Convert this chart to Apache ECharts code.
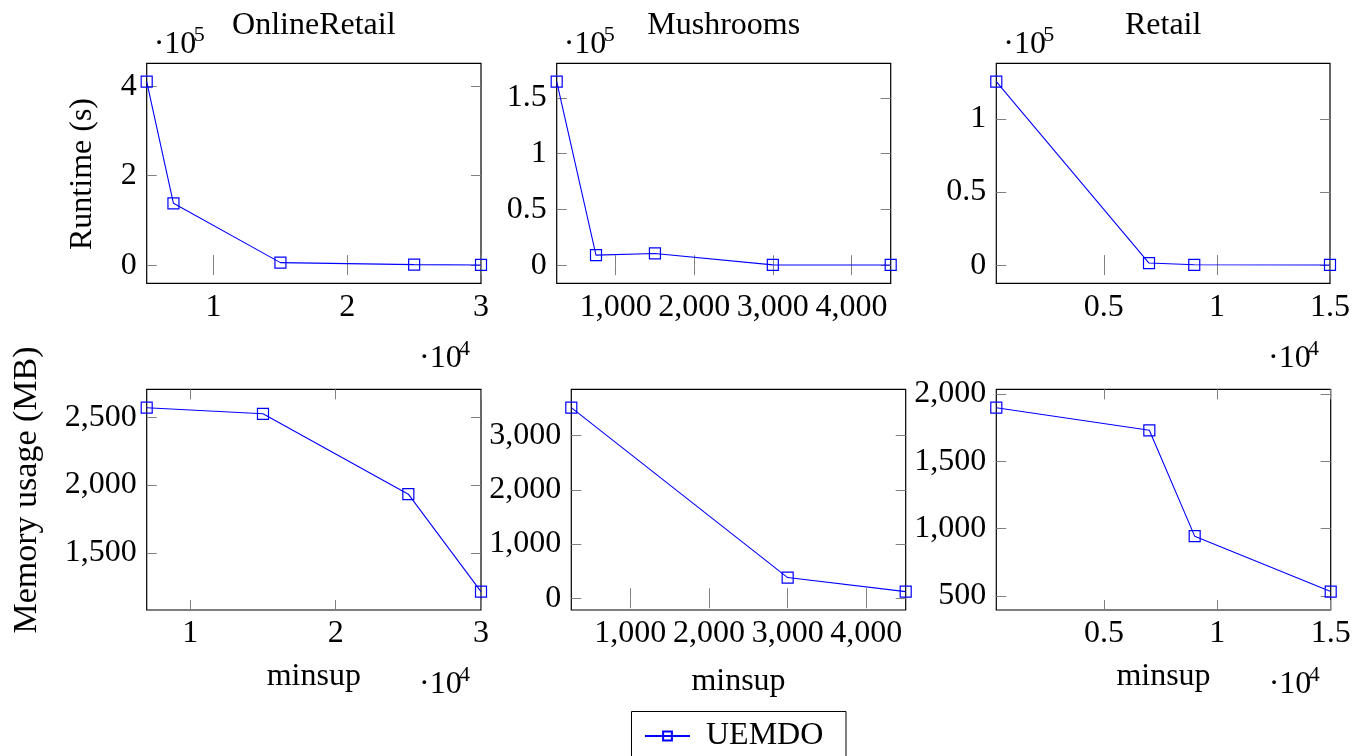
<!DOCTYPE html>
<html><head><meta charset="utf-8">
<script src="https://cdn.jsdelivr.net/npm/echarts@6/dist/echarts.min.js"></script>
<style>html,body{margin:0;padding:0;background:#fff}#c{width:1354px;height:756px}</style>
</head><body><div id="c"></div>
<script>
// ---------- DATA ----------
const seriesName = 'UEMDO';
const datasetTitles = ['OnlineRetail', 'Mushrooms', 'Retail'];
const yNameRuntime = 'Runtime (s)';
const yNameMemory = 'Memory usage (MB)';
const xName = 'minsup';

// Runtime (s)
const onlineRetailRuntimeX = [5000, 7000, 15000, 25000, 30000];
const onlineRetailRuntimeY = [410000, 138000, 5500, 1000, 300];
const mushroomsRuntimeX = [250, 750, 1500, 3000, 4500];
const mushroomsRuntimeY = [164500, 9000, 10500, 300, 200];
const retailRuntimeX = [250, 7000, 9000, 15000];
const retailRuntimeY = [125500, 1400, 200, 100];

// Memory usage (MB)
const onlineRetailMemoryX = [7000, 15000, 25000, 30000];
const onlineRetailMemoryY = [2570, 2525, 1933, 1215];
const mushroomsMemoryX = [250, 3000, 4500];
const mushroomsMemoryY = [3515, 381, 122];
const retailMemoryX = [250, 7000, 9000, 15000];
const retailMemoryY = [1897, 1729, 943, 531];

// Tick values
const onlineRetailRuntimeXTicks = [10000, 20000, 30000];
const onlineRetailRuntimeYTicks = [0, 200000, 400000];
const mushroomsRuntimeXTicks = [1000, 2000, 3000, 4000];
const mushroomsRuntimeYTicks = [0, 50000, 100000, 150000];
const retailRuntimeXTicks = [5000, 10000, 15000];
const retailRuntimeYTicks = [0, 50000, 100000];
const onlineRetailMemoryXTicks = [10000, 20000, 30000];
const onlineRetailMemoryYTicks = [1500, 2000, 2500];
const mushroomsMemoryXTicks = [1000, 2000, 3000, 4000];
const mushroomsMemoryYTicks = [0, 1000, 2000, 3000];
const retailMemoryXTicks = [5000, 10000, 15000];
const retailMemoryYTicks = [500, 1000, 1500, 2000];

// ---------- LAYOUT ----------
const FONT = 'Liberation Serif';
const FS = 32;
const panels = [
  {x: onlineRetailRuntimeX, y: onlineRetailRuntimeY, xt: onlineRetailRuntimeXTicks, yt: onlineRetailRuntimeYTicks, xs: 1e4, ys: 1e5, rect: [146.7, 63.3, 334.3, 220]},
  {x: mushroomsRuntimeX, y: mushroomsRuntimeY, xt: mushroomsRuntimeXTicks, yt: mushroomsRuntimeYTicks, xs: 1, ys: 1e5, rect: [556.7, 63.3, 334, 220]},
  {x: retailRuntimeX, y: retailRuntimeY, xt: retailRuntimeXTicks, yt: retailRuntimeYTicks, xs: 1e4, ys: 1e5, rect: [996.3, 63.3, 333.7, 220]},
  {x: onlineRetailMemoryX, y: onlineRetailMemoryY, xt: onlineRetailMemoryXTicks, yt: onlineRetailMemoryYTicks, xs: 1e4, ys: 1, rect: [146.7, 389.3, 334.3, 220.7]},
  {x: mushroomsMemoryX, y: mushroomsMemoryY, xt: mushroomsMemoryXTicks, yt: mushroomsMemoryYTicks, xs: 1, ys: 1, rect: [571.3, 389.3, 334.4, 220.7]},
  {x: retailMemoryX, y: retailMemoryY, xt: retailMemoryXTicks, yt: retailMemoryYTicks, xs: 1e4, ys: 1, rect: [996.3, 389.3, 334.4, 220.7]}
];

const fmt = s => v => (v / s).toLocaleString('en-US', {maximumFractionDigits: 3});
const tickStyle = {show: true, inside: true, length: 10, lineStyle: {color: '#808080', width: 1}};
const labelText = {color: '#000', fontFamily: FONT, fontSize: FS};

const grid = [], xAxis = [], yAxis = [], series = [];
panels.forEach((p, i) => {
  const [l, t, w, h] = p.rect;
  grid.push({left: l, top: t, width: w, height: h, show: true, borderColor: '#000', borderWidth: 1.2, backgroundColor: 'transparent', containLabel: false});
  const xmin = Math.min(...p.x), xmax = Math.max(...p.x);
  const dmin = Math.min(...p.y), dmax = Math.max(...p.y);
  const pad = 0.1 * (dmax - dmin);
  const ymin = dmin - pad, ymax = dmax + pad;
  // primary
  xAxis.push({type: 'value', gridIndex: i, position: 'bottom', min: xmin, max: xmax,
    axisLine: {show: false}, splitLine: {show: false},
    axisTick: Object.assign({customValues: p.xt}, tickStyle),
    axisLabel: Object.assign({customValues: p.xt, margin: 8, formatter: fmt(p.xs), showMinLabel: true, showMaxLabel: true}, labelText)});
  yAxis.push({type: 'value', gridIndex: i, position: 'left', min: ymin, max: ymax,
    axisLine: {show: false}, splitLine: {show: false},
    axisTick: Object.assign({customValues: p.yt}, tickStyle),
    axisLabel: Object.assign({customValues: p.yt, margin: 10, formatter: fmt(p.ys), showMinLabel: true, showMaxLabel: true}, labelText)});
  series.push({type: 'line', name: seriesName, xAxisIndex: 2 * i, yAxisIndex: 2 * i,
    data: p.x.map((v, k) => [v, p.y[k]]),
    symbol: 'rect', symbolSize: 11, showAllSymbol: true, clip: false,
    lineStyle: {color: '#0000ff', width: 1.1},
    itemStyle: {color: 'rgba(255,255,255,0)', borderColor: '#0000ff', borderWidth: 1.2},
    emphasis: {disabled: true}, z: 3});
  // secondary (opposite side ticks)
  xAxis.push({type: 'value', gridIndex: i, position: 'top', min: xmin, max: xmax,
    axisLine: {show: false}, splitLine: {show: false}, axisLabel: {show: false},
    axisTick: Object.assign({customValues: p.xt}, tickStyle)});
  yAxis.push({type: 'value', gridIndex: i, position: 'right', min: ymin, max: ymax,
    axisLine: {show: false}, splitLine: {show: false}, axisLabel: {show: false},
    axisTick: Object.assign({customValues: p.yt}, tickStyle)});
});

function txt(x, y, text, opts) {
  return Object.assign({type: 'text', x: x, y: y, silent: true,
    style: Object.assign({text: text, fill: '#000', font: FS + 'px "' + FONT + '"', textAlign: 'left', textVerticalAlign: 'middle'}, (opts && opts.style) || {})},
    opts && opts.rotation !== undefined ? {rotation: opts.rotation} : {});
}
const supFont = '22px "' + FONT + '"';
function sci(xLeft, yMid, exp) {
  return [txt(xLeft, yMid, '·10'), txt(xLeft + 40, yMid - 10, exp, {style: {font: supFont}})];
}

const graphic = [];
// titles
[0, 1, 2].forEach(i => {
  const r = panels[i].rect;
  graphic.push(txt(r[0] + r[2] / 2, 26, datasetTitles[i], {style: {textAlign: 'center'}}));
  graphic.push(...sci(r[0] + 7, 45, '5'));
});
// x scale labels
[0, 2].forEach(i => { const r = panels[i].rect; graphic.push(...sci(r[0] + r[2] - 62, 359, '4')); });
[3, 5].forEach(i => { const r = panels[i].rect; graphic.push(...sci(r[0] + r[2] - 62, 685, '4')); });
// x names
graphic.push(txt(313.8, 677, xName, {style: {textAlign: 'center'}}));
graphic.push(txt(738.5, 682, xName, {style: {textAlign: 'center'}}));
graphic.push(txt(1163.5, 677, xName, {style: {textAlign: 'center'}}));
// y names
graphic.push(txt(82.5, 174, yNameRuntime, {rotation: Math.PI / 2, style: {textAlign: 'center'}}));
graphic.push(txt(27, 490, yNameMemory, {rotation: Math.PI / 2, style: {textAlign: 'center', font: '34px "' + FONT + '"'}}));
// legend frame
graphic.push({type: 'rect', silent: true, shape: {x: 631.5, y: 711.5, width: 214.5, height: 60},
  style: {fill: '#fff', stroke: '#000', lineWidth: 1}, z: -1});

const chart = echarts.init(document.getElementById('c'), null, {renderer: 'canvas'});
chart.setOption({
  animation: false,
  backgroundColor: '#fff',
  grid, xAxis, yAxis, series, graphic,
  legend: {data: [seriesName], left: 639, top: 715, padding: 5, itemWidth: 45, itemHeight: 11,
    selectedMode: false, textStyle: {color: '#000', fontFamily: FONT, fontSize: FS, padding: [0, 0, 0, 11]}},
  tooltip: {show: false}
});
</script></body></html>
